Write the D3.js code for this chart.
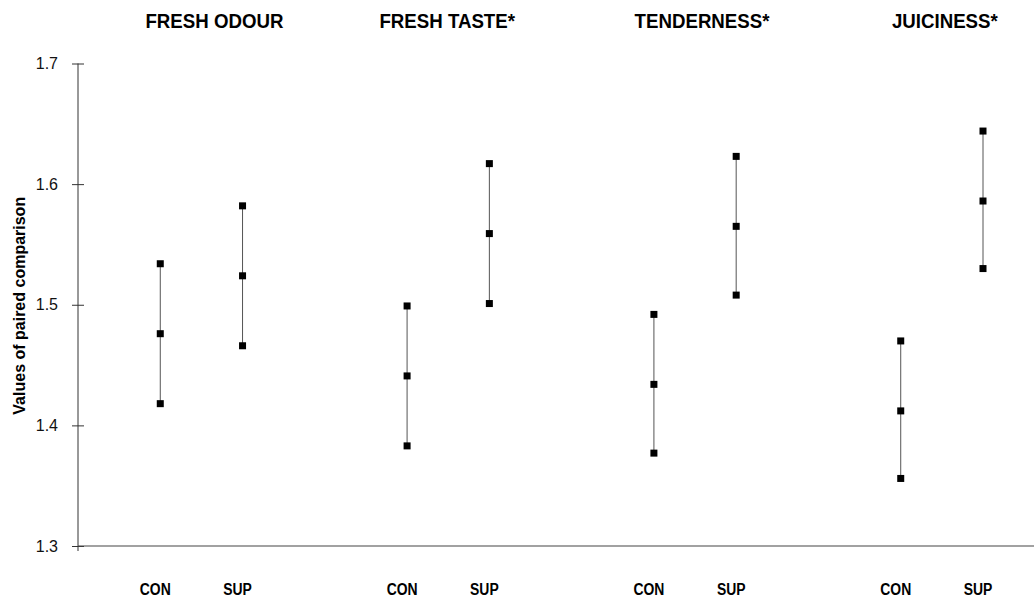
<!DOCTYPE html>
<html>
<head>
<meta charset="utf-8">
<script src="https://cdn.jsdelivr.net/npm/d3@7"></script>
<style>
  body { margin: 0; background: #fff; }
  svg { display: block; font-family: "Liberation Sans", Arial, sans-serif; }
</style>
</head>
<body>
<div id="chart"></div>
<script>
// values
var groups = ["FRESH ODOUR", "FRESH TASTE*", "TENDERNESS*", "JUICINESS*"];
var treatments = ["CON", "SUP"];
var conMean = [1.476, 1.441, 1.434, 1.412];
var conLow = [1.418, 1.383, 1.377, 1.356];
var conHigh = [1.534, 1.499, 1.492, 1.470];
var supMean = [1.524, 1.559, 1.565, 1.586];
var supLow = [1.466, 1.501, 1.508, 1.530];
var supHigh = [1.582, 1.617, 1.623, 1.644];
var yTicks = [1.3, 1.4, 1.5, 1.6, 1.7];

// small nudges of the group titles, as in the original
var titleShift = [13, -1, 7, 3];

var svgWidth = 1034;
var svgHeight = 599;

var svg = d3.select("#chart")
    .append("svg")
    .attr("width", svgWidth)
    .attr("height", svgHeight);

// build rows: one per group and treatment
var rows = [];
groups.forEach(function (g, i) {
    rows.push({ group: i, treat: 0, mean: conMean[i], low: conLow[i], high: conHigh[i] });
    rows.push({ group: i, treat: 1, mean: supMean[i], low: supLow[i], high: supHigh[i] });
});

// each group takes three slots: CON, SUP, gap
var slot = d => d.group * 3 + d.treat;

var xScale = d3.scaleLinear()
    .domain([-1, 10])
    .range([78, 983]);

var yScale = d3.scaleLinear()
    .domain([1.3, 1.7])
    .range([546, 63.5]);

// y axis
var yAxis = d3.axisLeft(yScale)
    .tickValues(yTicks)
    .tickFormat(d3.format(".1f"))
    .tickSize(6)
    .tickPadding(14);

var yAxisG = svg.append("g")
    .attr("transform", `translate(${xScale(-1)}, 0)`)
    .call(yAxis);

yAxisG.select(".domain").remove();
yAxisG.selectAll(".tick line")
    .attr("x1", 6)
    .attr("x2", -6)
    .attr("stroke", "#333");
yAxisG.selectAll(".tick text")
    .style("font-size", "16px")
    .style("font-family", "Liberation Sans, Arial, sans-serif")
    .attr("fill", "#111");

svg.append("line")
    .attr("x1", xScale(-1))
    .attr("x2", xScale(-1))
    .attr("y1", yScale(1.7))
    .attr("y2", yScale(1.3) + 5)
    .attr("stroke", "#333");

// baseline
svg.append("line")
    .attr("x1", xScale(-1))
    .attr("x2", svgWidth)
    .attr("y1", yScale(1.3))
    .attr("y2", yScale(1.3))
    .attr("stroke", "#444")
    .attr("stroke-width", 1.2);

// y label
svg.append("text")
    .attr("transform", `translate(25, ${(yScale(1.3) + yScale(1.7)) / 2 + 1}) rotate(-90)`)
    .attr("text-anchor", "middle")
    .attr("font-size", 16)
    .attr("font-weight", "bold")
    .attr("fill", "#000")
    .text("Values of paired comparison");

// range lines
svg.selectAll(".range")
    .data(rows)
    .enter()
    .append("line")
    .attr("class", "range")
    .attr("x1", d => xScale(slot(d)))
    .attr("x2", d => xScale(slot(d)))
    .attr("y1", d => yScale(d.low))
    .attr("y2", d => yScale(d.high))
    .attr("stroke", "#555")
    .attr("stroke-width", 1);

// square markers
var points = [];
rows.forEach(function (d) {
    [d.low, d.mean, d.high].forEach(function (v) {
        points.push({ s: slot(d), v: v });
    });
});

svg.selectAll(".pt")
    .data(points)
    .enter()
    .append("rect")
    .attr("class", "pt")
    .attr("x", d => xScale(d.s) - 3.5)
    .attr("y", d => yScale(d.v) - 3.5)
    .attr("width", 7)
    .attr("height", 7)
    .attr("fill", "#000");

// treatment labels
svg.selectAll(".treat")
    .data(rows)
    .enter()
    .append("text")
    .attr("class", "treat")
    .attr("transform", d => `translate(${xScale(slot(d)) - 5}, 595) scale(0.87, 1)`)
    .attr("text-anchor", "middle")
    .attr("font-size", 16)
    .attr("font-weight", "bold")
    .attr("fill", "#000")
    .text(d => treatments[d.treat]);

// group titles
svg.selectAll(".title")
    .data(groups)
    .enter()
    .append("text")
    .attr("class", "title")
    .attr("transform", (d, i) => `translate(${xScale(i * 3 + 0.5) + titleShift[i]}, 28) scale(0.89, 1)`)
    .attr("text-anchor", "middle")
    .attr("font-size", 21)
    .attr("font-weight", "bold")
    .attr("fill", "#000")
    .text(d => d);
</script>
</body>
</html>
